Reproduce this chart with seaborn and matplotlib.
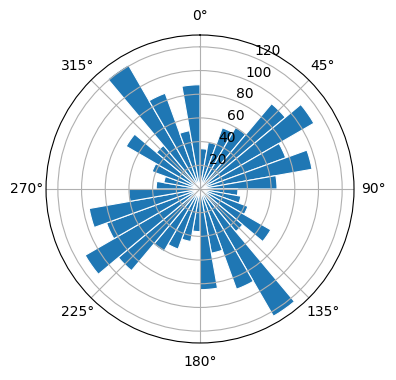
import numpy as np
import matplotlib
matplotlib.use("Agg")
import matplotlib.pyplot as plt
import seaborn as sns

# --- Data: counts per 10-degree direction bin (bin centres in degrees) ---
bin_centres_deg = [5, 15, 25, 35, 45, 55, 65, 75, 85,
                   95, 105, 115, 125, 135, 145, 155, 165, 175,
                   185, 195, 205, 215, 225, 235, 245, 255, 265,
                   275, 285, 295, 305, 315, 325, 335, 345, 355]
counts = [34, 40, 55, 60, 94, 111, 77, 96, 65,
          32, 35, 43, 69, 47, 124, 90, 55, 85,
          36, 45, 54, 61, 90, 112, 84, 95, 60,
          37, 31, 43, 72, 48, 121, 86, 50, 88]
bin_width_deg = 10

# --- Figure setup ---
bar_color = sns.color_palette()[0]

fig = plt.figure(figsize=(3.96, 3.8), dpi=100)
ax = fig.add_axes([0.1162, 0.0974, 0.7778, 0.8105], projection="polar")
ax.set_theta_zero_location("N")
ax.set_theta_direction(-1)

theta = np.deg2rad(bin_centres_deg)
ax.bar(theta, counts, width=np.deg2rad(bin_width_deg), bottom=0.0,
       color=bar_color, edgecolor="white", linewidth=0.8)

ax.set_rlim(0, 130)
ax.set_rticks([20, 40, 60, 80, 100, 120])

fig.savefig("out.png", dpi=100)
